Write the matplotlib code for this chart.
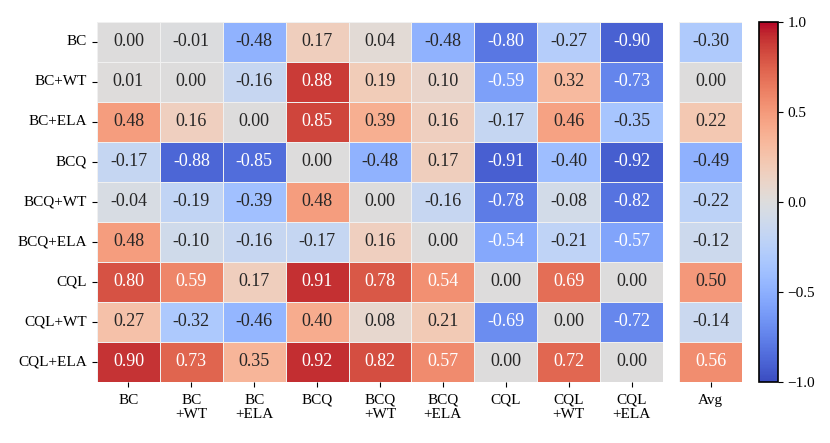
import numpy as np
import matplotlib.pyplot as plt
import seaborn as sns

plt.rcParams['font.family'] = ['Liberation Serif', 'DejaVu Serif']

rows = ["BC", "BC+WT", "BC+ELA", "BCQ", "BCQ+WT", "BCQ+ELA", "CQL", "CQL+WT", "CQL+ELA"]
cols = ["BC", "BC\n+WT", "BC\n+ELA", "BCQ", "BCQ\n+WT", "BCQ\n+ELA", "CQL", "CQL\n+WT", "CQL\n+ELA"]

vals = np.array([
    [0.00, -0.01, -0.48, 0.17, 0.04, -0.48, -0.80, -0.27, -0.90],
    [0.01, 0.00, -0.16, 0.88, 0.19, 0.10, -0.59, 0.32, -0.73],
    [0.48, 0.16, 0.00, 0.85, 0.39, 0.16, -0.17, 0.46, -0.35],
    [-0.17, -0.88, -0.85, 0.00, -0.48, 0.17, -0.91, -0.40, -0.92],
    [-0.04, -0.19, -0.39, 0.48, 0.00, -0.16, -0.78, -0.08, -0.82],
    [0.48, -0.10, -0.16, -0.17, 0.16, 0.00, -0.54, -0.21, -0.57],
    [0.80, 0.59, 0.17, 0.91, 0.78, 0.54, 0.00, 0.69, 0.00],
    [0.27, -0.32, -0.46, 0.40, 0.08, 0.21, -0.69, 0.00, -0.72],
    [0.90, 0.73, 0.35, 0.92, 0.82, 0.57, 0.00, 0.72, 0.00],
])
avg = np.array([-0.30, 0.00, 0.22, -0.49, -0.22, -0.12, 0.50, -0.14, 0.56])

W, H = 830, 443
fig = plt.figure(figsize=(W / 100, H / 100), dpi=100)
ax = fig.add_axes([97 / W, (H - 382) / H, 566 / W, 360 / H])
ax_avg = fig.add_axes([679 / W, (H - 382) / H, 63 / W, 360 / H])
cax = fig.add_axes([759 / W, (H - 382) / H, 19 / W, 360 / H])

kw = dict(cmap="coolwarm", vmin=-1, vmax=1, annot=True, fmt=".2f",
          linewidths=0.5, linecolor="#f0f0f0", annot_kws={"fontsize": 13})

sns.heatmap(vals, ax=ax, cbar=False, xticklabels=cols, yticklabels=rows, **kw)
sns.heatmap(avg[:, None], ax=ax_avg, cbar_ax=cax, xticklabels=["Avg"], yticklabels=False, **kw)

ax.tick_params(labelsize=11)
ax.tick_params(axis="x", pad=5)
ax.set_yticklabels(rows, rotation=0)
ax.set_xticklabels(cols, rotation=0, linespacing=1.15)
ax_avg.tick_params(labelsize=11, left=False)
ax_avg.tick_params(axis="x", pad=5)
ax_avg.set_xticklabels(["Avg"], rotation=0)

cbar = ax_avg.collections[0].colorbar
cbar.set_ticks([-1.0, -0.5, 0.0, 0.5, 1.0])
cbar.ax.tick_params(labelsize=11)
cbar.outline.set_visible(True)
cbar.outline.set_linewidth(1.2)

fig.savefig("out.png", dpi=100)
